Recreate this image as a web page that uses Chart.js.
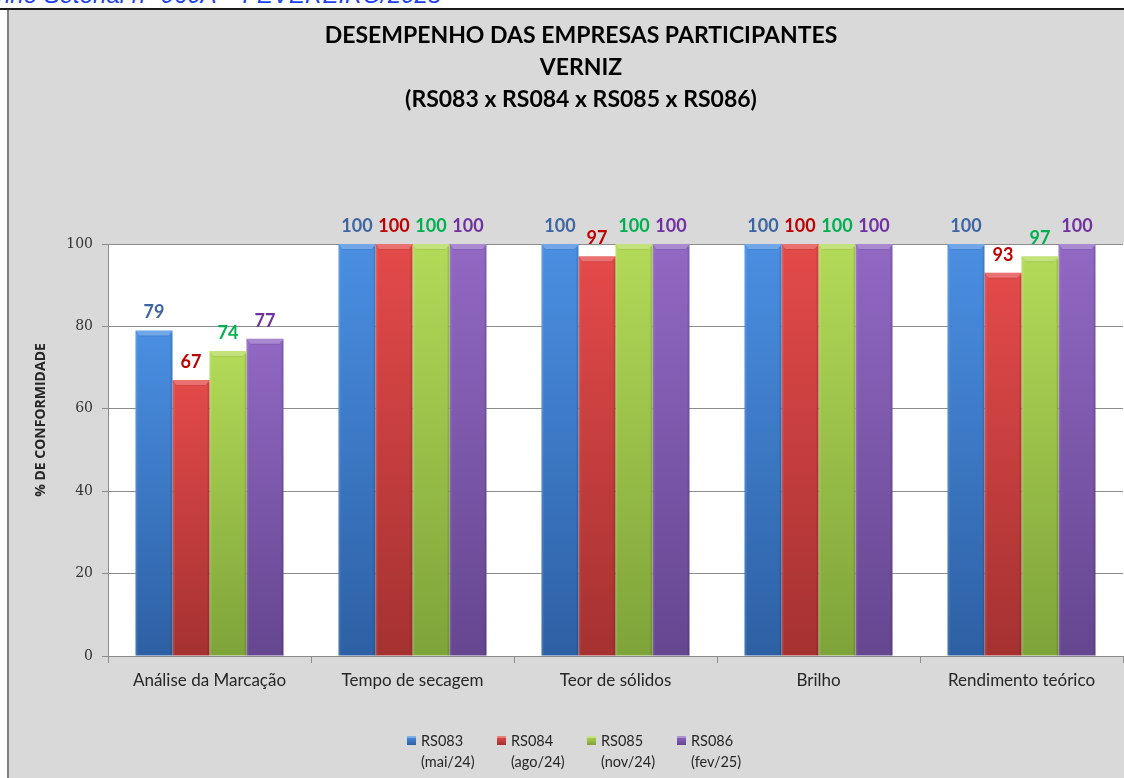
<!DOCTYPE html>
<html lang="pt">
<head>
<meta charset="utf-8">
<title>Desempenho das empresas participantes - Verniz</title>
<script src="https://cdn.jsdelivr.net/npm/chart.js@4.4.1/dist/chart.umd.min.js"></script>
<style>
    html, body {
        margin: 0;
        padding: 0;
        background: #ffffff;
        width: 1124px;
        height: 778px;
        overflow: hidden;
        position: relative;
    }
    #topText {
        position: absolute;
        left: -3px;
        top: -17px;
        font: italic 24px "Liberation Sans", Arial, sans-serif;
        color: #1c3ff0;
        white-space: nowrap;
        line-height: 24px;
    }
    #topLine {
        position: absolute;
        left: 0;
        top: 8px;
        width: 1124px;
        height: 2px;
        background: #1a1a1a;
    }
    #panel {
        position: absolute;
        left: 7px;
        top: 10px;
        width: 1117px;
        height: 768px;
        background: #d9d9d9;
        border-left: 2px solid #7f7f7f;
        box-sizing: border-box;
    }
    #chartBox {
        position: absolute;
        left: 0;
        top: 0;
    }
</style>
</head>
<body>
<div id="topText">nho Setorial nº 060A – FEVEREIRO/2025</div>
<div id="topLine"></div>
<div id="panel"></div>
<canvas id="chartBox" width="1162" height="778"></canvas>

<script>
// Chart data
const categories = ['Análise da Marcação', 'Tempo de secagem', 'Teor de sólidos', 'Brilho', 'Rendimento teórico'];
const seriesNames = ['RS083', 'RS084', 'RS085', 'RS086'];
const seriesPeriods = ['(mai/24)', '(ago/24)', '(nov/24)', '(fev/25)'];
const rs083 = [79, 100, 100, 100, 100];
const rs084 = [67, 100, 97, 100, 93];
const rs085 = [74, 100, 100, 100, 97];
const rs086 = [77, 100, 100, 100, 100];
const yTicks = [0, 20, 40, 60, 80, 100];

const titleLines = ['DESEMPENHO DAS EMPRESAS PARTICIPANTES', 'VERNIZ', '(RS083 x RS084 x RS085 x RS086)'];
const yAxisTitle = '% DE CONFORMIDADE';

// Colours per series: gradient top, gradient bottom, value label
const seriesColors = [
    { top: '#4a8fe2', bottom: '#2d60a4', label: '#3d65a2' },
    { top: '#e44a4a', bottom: '#a53131', label: '#c00000' },
    { top: '#b3da58', bottom: '#7ea339', label: '#00b050' },
    { top: '#9168c3', bottom: '#654690', label: '#7030a0' }
];

const gridColor = '#8c8c8c';
const textColor = '#262626';

/**
 * Vertical gradient fill for each bar
 */
function barFill(idx) {
    return function(context) {
        const chart = context.chart;
        const c = seriesColors[idx];
        if (!chart.chartArea || context.type !== 'data') return c.top;
        const yScale = chart.scales.y;
        const top = yScale.getPixelForValue(context.parsed.y);
        const bottom = yScale.getPixelForValue(0);
        if (!isFinite(top) || !isFinite(bottom) || bottom - top < 1) return c.top;
        const g = chart.ctx.createLinearGradient(0, top, 0, bottom);
        g.addColorStop(0, c.top);
        g.addColorStop(1, c.bottom);
        return g;
    };
}

const seriesValues = [rs083, rs084, rs085, rs086];
const datasets = seriesValues.map((values, i) => ({
    label: seriesNames[i],
    data: values,
    backgroundColor: barFill(i),
    borderWidth: 0,
    categoryPercentage: 0.729,
    barPercentage: 1
}));

// White plot area
const plotBackground = {
    id: 'plotBackground',
    beforeDraw(chart) {
        const { ctx, chartArea } = chart;
        ctx.save();
        ctx.fillStyle = '#ffffff';
        ctx.fillRect(chartArea.left, chartArea.top, chartArea.right - chartArea.left + 2, chartArea.bottom - chartArea.top);
        ctx.restore();
    }
};

// Bevel on the bar tops + value labels
const barDecor = {
    id: 'barDecor',
    afterDatasetsDraw(chart) {
        const ctx = chart.ctx;
        chart.data.datasets.forEach((ds, i) => {
            const meta = chart.getDatasetMeta(i);
            meta.data.forEach((bar, j) => {
                const { x, y, base, width } = bar.getProps(['x', 'y', 'base', 'width'], true);
                const left = x - width / 2;
                const right = x + width / 2;
                ctx.save();
                // top bevel
                ctx.fillStyle = 'rgba(255,255,255,0.22)';
                ctx.beginPath();
                ctx.moveTo(left, y);
                ctx.lineTo(right, y);
                ctx.lineTo(right - 4, y + 5);
                ctx.lineTo(left + 4, y + 5);
                ctx.closePath();
                ctx.fill();
                ctx.strokeStyle = 'rgba(0,0,0,0.08)';
                ctx.lineWidth = 1;
                ctx.beginPath();
                ctx.moveTo(left + 4, y + 5.5);
                ctx.lineTo(right - 4, y + 5.5);
                ctx.stroke();
                // side shading
                ctx.fillStyle = 'rgba(0,0,0,0.10)';
                ctx.fillRect(right - 2, y + 3, 2, base - y - 3);
                ctx.fillStyle = 'rgba(255,255,255,0.10)';
                ctx.fillRect(left, y + 3, 2, base - y - 3);
                ctx.restore();

                // value label
                ctx.save();
                ctx.font = 'bold 18px Lato, "Open Sans", sans-serif';
                ctx.fillStyle = seriesColors[i].label;
                ctx.textAlign = 'center';
                ctx.textBaseline = 'middle';
                ctx.fillText(String(ds.data[j]), x, y - 18);
                ctx.restore();
            });
        });
    }
};

// Title, axis title and legend
const decorations = {
    id: 'decorations',
    afterDraw(chart) {
        const ctx = chart.ctx;
        ctx.save();

        // Title
        ctx.fillStyle = '#000000';
        ctx.textAlign = 'center';
        ctx.textBaseline = 'middle';
        ctx.font = 'bold 23px Lato, "Open Sans", sans-serif';
        titleLines.forEach((line, k) => {
            ctx.fillText(line, 581, 36 + k * 32);
        });

        // Y axis title
        ctx.save();
        ctx.translate(41, 420);
        ctx.rotate(-Math.PI / 2);
        ctx.font = 'bold 14px "Open Sans", Lato, sans-serif';
        ctx.fillStyle = textColor;
        ctx.fillText(yAxisTitle, 0, 0);
        ctx.restore();

        // Legend
        ctx.textAlign = 'left';
        ctx.font = '14.5px Lato, "Open Sans", sans-serif';
        seriesNames.forEach((name, i) => {
            const sx = 407 + i * 90;
            const c = seriesColors[i];
            const g = ctx.createLinearGradient(0, 736, 0, 745);
            g.addColorStop(0, c.top);
            g.addColorStop(1, c.bottom);
            ctx.fillStyle = g;
            ctx.fillRect(sx, 736, 9, 9);
            ctx.fillStyle = 'rgba(255,255,255,0.3)';
            ctx.fillRect(sx, 736, 9, 2);
            ctx.fillStyle = textColor;
            ctx.fillText(name, sx + 14, 741);
            ctx.fillText(seriesPeriods[i], sx + 14, 762);
        });

        ctx.restore();
    }
};

const ctx = document.getElementById('chartBox').getContext('2d');

new Chart(ctx, {
    type: 'bar',
    data: {
        labels: categories,
        datasets: datasets
    },
    options: {
        responsive: false,
        animation: false,
        devicePixelRatio: 1,
        layout: {
            padding: { top: 244, left: 0, right: 39, bottom: 82 }
        },
        plugins: {
            legend: { display: false },
            title: { display: false },
            tooltip: { enabled: false }
        },
        scales: {
            x: {
                offset: true,
                grid: {
                    display: true,
                    drawOnChartArea: false,
                    drawTicks: true,
                    tickLength: 7,
                    color: gridColor,
                    offset: true
                },
                border: { display: true, color: gridColor, width: 1 },
                ticks: {
                    color: textColor,
                    font: { family: 'Lato, "Open Sans", sans-serif', size: 17 },
                    padding: 7,
                    maxRotation: 0,
                    autoSkip: false
                },
                afterFit(scale) {
                    scale.height = 40;
                }
            },
            y: {
                min: yTicks[0],
                max: yTicks[yTicks.length - 1],
                afterBuildTicks(scale) {
                    scale.ticks = yTicks.map(v => ({ value: v }));
                },
                grid: {
                    color: gridColor,
                    tickLength: 6,
                    drawTicks: true
                },
                border: { display: true, color: gridColor, width: 1 },
                ticks: {
                    color: '#333333',
                    font: { family: '"DejaVu Serif", serif', size: 14 },
                    padding: 9
                },
                afterFit(scale) {
                    scale.width = 108;
                }
            }
        }
    },
    plugins: [plotBackground, barDecor, decorations]
});
</script>
</body>
</html>
